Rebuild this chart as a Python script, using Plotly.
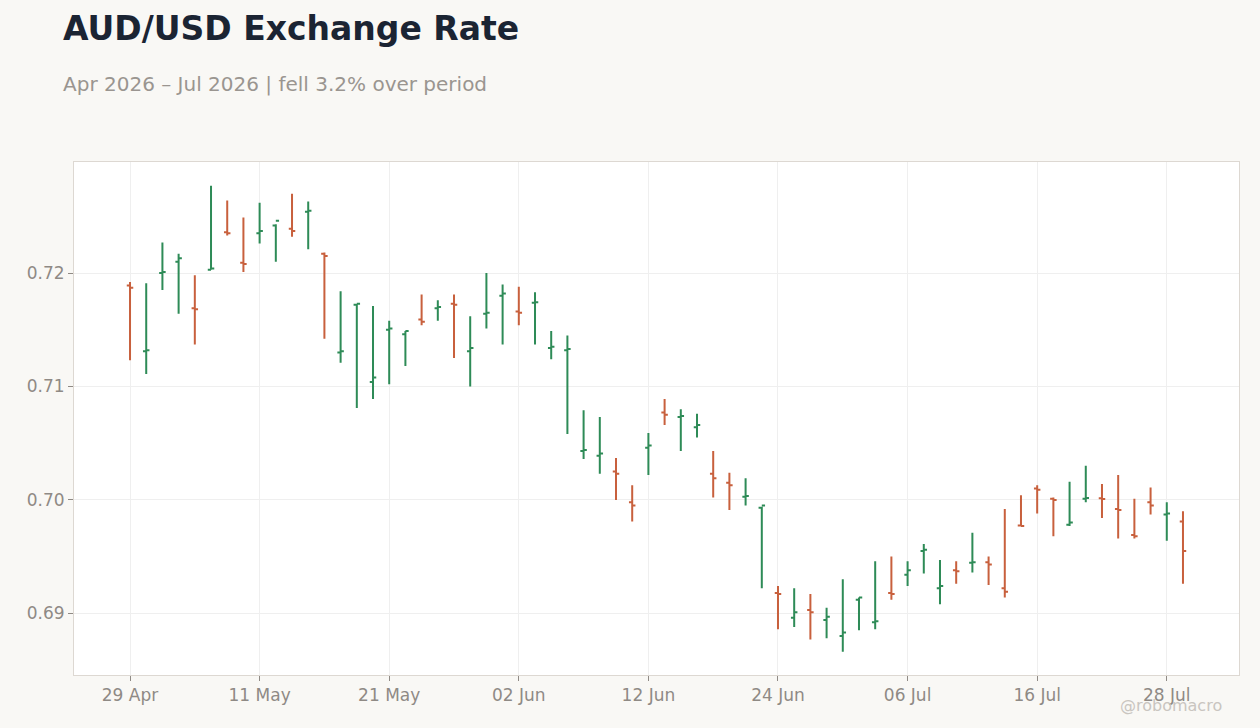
import pandas as pd
import plotly.graph_objects as go

# Business days 29 Apr 2026 – 29 Jul 2026
dates = list(pd.bdate_range("2026-04-29", "2026-07-29"))

open_ = [0.7189, 0.7131, 0.7200, 0.7210, 0.7169, 0.7203, 0.7236, 0.7209, 0.7235, 0.7242,
         0.7239, 0.7254, 0.7217, 0.7130, 0.7172, 0.7104, 0.7150, 0.7146, 0.7159, 0.7169,
         0.7173, 0.7131, 0.7164, 0.7180, 0.7166, 0.71738, 0.7134, 0.7132, 0.7043, 0.7039,
         0.7025, 0.6998, 0.7046, 0.7077, 0.7073, 0.7064, 0.7023, 0.7015, 0.70028, 0.6993,
         0.6918, 0.6896, 0.6903, 0.6894, 0.6880, 0.6912, 0.6892, 0.6918, 0.6934, 0.6955,
         0.6922, 0.6938, 0.69445, 0.6945, 0.6922, 0.69775, 0.7010, 0.7001, 0.6978, 0.70010,
         0.70014, 0.6992, 0.6969, 0.6998, 0.6987, 0.6981]
high = [0.7192, 0.7191, 0.7227, 0.7217, 0.7198, 0.7277, 0.7264, 0.7249, 0.7262, 0.7243,
        0.7270, 0.7263, 0.7218, 0.7184, 0.7172, 0.7171, 0.7158, 0.7149, 0.7181, 0.7176,
        0.7181, 0.7162, 0.7200, 0.7190, 0.7188, 0.7183, 0.7149, 0.7145, 0.7079, 0.7073,
        0.7037, 0.7013, 0.7059, 0.7089, 0.7080, 0.7076, 0.7043, 0.7024, 0.7019, 0.6994,
        0.6924, 0.6922, 0.6917, 0.6905, 0.6930, 0.6914, 0.6946, 0.6950, 0.6946, 0.6961,
        0.6947, 0.6946, 0.6971, 0.6950, 0.6992, 0.7004, 0.7013, 0.7002, 0.7016, 0.7030,
        0.7014, 0.7022, 0.7001, 0.7011, 0.6998, 0.6990]
low = [0.7123, 0.7111, 0.7185, 0.7164, 0.7137, 0.7203, 0.7233, 0.7201, 0.7226, 0.7210,
       0.7232, 0.7221, 0.7142, 0.7121, 0.7081, 0.7089, 0.7102, 0.7118, 0.7154, 0.7158,
       0.7125, 0.7100, 0.7151, 0.7137, 0.7154, 0.7137, 0.7124, 0.7058, 0.7036, 0.7023,
       0.7000, 0.6981, 0.7022, 0.7066, 0.7043, 0.7055, 0.7002, 0.6991, 0.6995, 0.6922,
       0.6886, 0.6888, 0.6877, 0.6878, 0.6866, 0.6885, 0.6886, 0.6912, 0.6924, 0.6935,
       0.6908, 0.6926, 0.6936, 0.6925, 0.6914, 0.6977, 0.6988, 0.6968, 0.6977, 0.6998,
       0.6984, 0.6966, 0.6966, 0.6987, 0.6964, 0.6926]
close = [0.7187, 0.7132, 0.7201, 0.7213, 0.7168, 0.7204, 0.7235, 0.7208, 0.7237, 0.7246,
         0.7237, 0.7255, 0.7215, 0.7131, 0.7173, 0.7108, 0.7151, 0.7149, 0.7157, 0.7170,
         0.7172, 0.7134, 0.7165, 0.7182, 0.7165, 0.71742, 0.7135, 0.7133, 0.7044, 0.7041,
         0.7023, 0.6995, 0.7048, 0.7075, 0.7074, 0.7066, 0.7019, 0.7013, 0.70034, 0.6995,
         0.6917, 0.6901, 0.6901, 0.6897, 0.6883, 0.6914, 0.6893, 0.6917, 0.6938, 0.6956,
         0.6924, 0.6937, 0.6945, 0.6943, 0.6919, 0.6977, 0.7009, 0.7000, 0.6980, 0.70016,
         0.70008, 0.6991, 0.6968, 0.6995, 0.6988, 0.6955]

tick_dates = ["2026-04-29", "2026-05-11", "2026-05-21", "2026-06-02", "2026-06-12",
              "2026-06-24", "2026-07-06", "2026-07-16", "2026-07-28"]
y_ticks = [0.69, 0.70, 0.71, 0.72]

GREEN = "#2e8b57"
RED = "#c8603d"
FONT = "DejaVu Sans"

fig = go.Figure(go.Ohlc(
    x=dates, open=open_, high=high, low=low, close=close,
    increasing=dict(line=dict(color=GREEN, width=2)),
    decreasing=dict(line=dict(color=RED, width=2)),
    tickwidth=0.2, showlegend=False,
))

fig.update_layout(
    width=1260, height=728,
    margin=dict(l=74, r=21, t=162, b=53, autoexpand=False),
    paper_bgcolor="#f9f8f5", plot_bgcolor="#ffffff",
    font=dict(family=FONT, color="#8f8a85", size=17),
    showlegend=False,
)
fig.update_xaxes(
    type="date",
    rangebreaks=[dict(bounds=["sat", "mon"])],
    range=["2026-04-23 13:00", "2026-08-03 11:00"],
    rangeslider=dict(visible=False),
    tickmode="array", tickvals=tick_dates, tickformat="%d %b",
    ticks="outside", ticklen=5, tickcolor="#8f8a85", tickwidth=1,
    showgrid=True, gridcolor="#efefef", gridwidth=1,
    showline=True, linecolor="#ddd8d2", linewidth=1, mirror=True,
    zeroline=False,
    tickfont=dict(size=17, color="#8f8a85", family=FONT),
)
fig.update_yaxes(
    range=[0.68456, 0.72979],
    tickmode="array", tickvals=y_ticks, tickformat=".2f",
    ticks="outside", ticklen=5, tickcolor="#8f8a85", tickwidth=1,
    showgrid=True, gridcolor="#efefef", gridwidth=1,
    showline=True, linecolor="#ddd8d2", linewidth=1, mirror=True,
    zeroline=False,
    tickfont=dict(size=17, color="#8f8a85", family=FONT),
)

fig.add_annotation(
    text="<b>AUD/USD Exchange Rate</b>", xref="paper", yref="paper",
    x=-0.0112, y=1.2600, xanchor="left", yanchor="middle", showarrow=False,
    font=dict(family=FONT, size=33, color="#1b2433"),
)
fig.add_annotation(
    text="Apr 2026 – Jul 2026 | fell 3.2% over period", xref="paper", yref="paper",
    x=-0.0112, y=1.1515, xanchor="left", yanchor="middle", showarrow=False,
    font=dict(family=FONT, size=20, color="#9a9590"),
)
fig.add_annotation(
    text="@robomacro", xref="paper", yref="paper",
    x=0.9869, y=-0.0600, xanchor="right", yanchor="middle", showarrow=False,
    font=dict(family=FONT, size=16, color="#c9c5c0"),
)

fig.write_html("out.html", config={"displayModeBar": False},
               post_script="document.body.style.margin='0';")
